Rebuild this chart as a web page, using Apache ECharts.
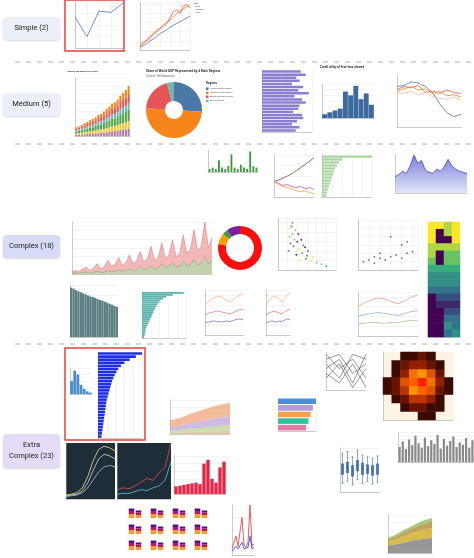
<!DOCTYPE html>
<html>
<head>
<meta charset="utf-8">
<script src="https://cdn.jsdelivr.net/npm/echarts@6/dist/echarts.min.js"></script>
<style>html,body{margin:0;padding:0;background:#fff}#main{width:474px;height:558px}</style>
</head>
<body>
<div id="main"></div>
<script>
// 分组标签
var groupLabels = ['Simple (2)', 'Medium (5)', 'Complex (18)', 'Extra\nComplex (23)'];

// Simple
var simpleCats = ['a', 'b', 'c', 'd', 'e'];
var simpleLine = [185, 100, 210, 205, 245];
var multiX = [0, 1, 2, 3, 4, 5, 6, 7, 8, 9, 10, 11, 12, 13, 14, 15];
var multiA = [10, 18, 22, 30, 36, 44, 48, 55, 60, 66, 72, 80, 86, 90, 94, 98];
var multiB = [8, 14, 20, 26, 34, 40, 46, 52, 58, 70, 84, 88, 80, 96, 100, 92];
var multiC = [6, 10, 14, 20, 24, 30, 36, 40, 44, 50, 54, 58, 62, 66, 70, 74];

// Medium
var stackCats = ['1','2','3','4','5','6','7','8','9','10','11','12','13','14','15','16','17','18','19','20'];
var stackS1 = [3, 3, 4, 4, 5, 5, 6, 6, 7, 8, 8, 9, 10, 11, 12, 12, 14, 15, 16, 18];
var stackS2 = [3, 4, 4, 5, 5, 6, 6, 7, 8, 8, 9, 10, 11, 12, 12, 14, 15, 16, 17, 18];
var stackS3 = [5, 6, 6, 7, 8, 9, 9, 11, 12, 12, 14, 15, 16, 18, 18, 20, 22, 24, 25, 27];
var stackS4 = [3, 3, 4, 4, 5, 5, 6, 6, 7, 7, 8, 9, 10, 11, 11, 12, 13, 14, 15, 16];
var stackS5 = [4, 4, 5, 6, 6, 7, 8, 8, 9, 10, 11, 12, 13, 14, 15, 16, 18, 19, 20, 22];
var stackS6 = [3, 3, 4, 5, 5, 6, 6, 7, 8, 8, 9, 10, 11, 12, 13, 14, 15, 16, 18, 20];
var gdpNames = ['Indian Ocean Region', 'Pacific Ocean Region', 'Atlantic Ocean Region', 'Arctic Region'];
var gdpValues = [26, 50, 20, 4];
var purpleBars = [62, 70, 55, 60, 48, 66, 58, 75, 52, 64, 70, 60, 58, 50, 64, 66, 56, 48, 60, 54];
var histValues = [2, 3, 4, 5, 14, 12, 17, 10, 13, 7];
var linesM1 = [70, 72, 78, 76, 70, 60, 40, 25, 18, 22];
var linesM2 = [65, 70, 68, 72, 60, 62, 58, 64, 60, 58];
var linesM3 = [62, 66, 70, 64, 66, 58, 62, 54, 56, 52];
var linesM4 = [60, 58, 62, 56, 60, 52, 50, 48, 52, 46];

// Complex
var spikeA = [2,3,2,4,6,3,5,9,4,6,12,6,8,14,7,9,16,8,10,18,9,11,22,10,12,24,11,14,26,12,15,30,14,18,34,16,20,40,18,26];
var spikeB = [1,1,1,2,2,1,2,3,2,2,4,3,3,5,3,4,6,4,5,8,5,6,10,6,7,12,7,8,13,8,9,15,9,11,17,10,12,20,12,16];
var redDonut = [78, 8, 4, 10];
var decBars = [95, 93, 90, 88, 86, 84, 82, 80, 78, 77, 75, 73, 71, 70, 68, 66, 64, 62, 60, 58];
var tealBars = [95, 70, 55, 48, 42, 38, 35, 32, 30, 28, 26, 24, 22, 20, 18, 16, 14, 12, 10, 9, 8, 7, 6, 5];
var greenBars = [100, 40, 34, 30, 26, 24, 22, 20, 18, 16, 14, 12, 10, 9];
var riseLine = [50, 52, 56, 60, 64, 70, 76, 82, 88, 95];
var fallLineA = [50, 46, 42, 44, 40, 38, 40, 36, 38, 34];
var fallLineB = [50, 44, 40, 38, 36, 32, 30, 32, 28, 26];
var blueArea = [30, 34, 40, 36, 50, 70, 55, 60, 42, 38, 36, 44, 40, 48, 62, 50, 44, 40, 38, 36];
var greenSpikes = [2, 3, 2, 8, 3, 2, 4, 12, 3, 2, 5, 3, 2, 14, 4, 3];
var viridisScatter = [[1,60],[1.2,55],[1.5,70],[1.3,48],[2,50],[2.2,42],[1.8,62],[2.5,38],[3,35],[2.8,44],[3.4,30],[4,28],[1.1,40],[1.6,45],[2.1,58],[3.6,34],[4.5,26],[5,24],[1.4,66],[2.4,52],[1.2,64],[1.7,52],[2.6,46],[3.1,40],[1.9,36],[2.3,30],[1.5,58],[2.9,32]];
var purpleScatter = [[1,10],[2,12],[3,8],[4,14],[5,12],[6,16],[7,18],[8,14],[9,20],[10,22],[6,40],[8,30],[4,20],[9,34],[3,16]];
var heatRows = ['r1','r2','r3','r4','r5','r6','r7','r8','r9','r10','r11','r12','r13','r14','r15','r16'];
var heatCols = ['A', 'B', 'C', 'D'];
var heatVals = [
  [9, 9, 8, 9], [9, 1, 8, 9], [9, 1, 1, 9], [8, 8, 8, 8], [8, 1, 7, 7], [7, 1, 7, 7],
  [6, 6, 6, 6], [5, 5, 5, 5], [5, 5, 5, 5], [4, 4, 4, 4], [1, 3, 3, 3], [1, 2, 2, 2],
  [1, 1, 3, 3], [1, 1, 4, 4], [1, 1, 5, 4], [1, 1, 4, 5]
];
var dotLines1 = [60, 68, 74, 78, 76, 70, 66, 72, 80, 84];
var dotLines2 = [40, 44, 46, 48, 46, 44, 42, 46, 50, 52];
var dotLines3 = [25, 26, 28, 27, 26, 28, 27, 30, 32, 31];

// Extra Complex
var blueHBars = [100, 86, 72, 60, 52, 46, 42, 38, 35, 32, 30, 28, 26, 24, 22, 20, 19, 18, 17, 16, 15, 14, 13, 12, 11, 10, 9, 8];
var darkLines1 = [5, 6, 8, 14, 28, 48, 62, 66, 64, 60];
var darkLines2 = [4, 5, 6, 10, 20, 36, 50, 56, 54, 50];
var darkLines3 = [3, 4, 5, 8, 14, 24, 34, 40, 42, 40];
var darkSpike1 = [10, 12, 11, 14, 18, 22, 20, 28, 34, 60];
var darkSpike2 = [5, 6, 6, 8, 10, 9, 12, 14, 20, 40];
var redBars = [20, 22, 24, 26, 28, 30, 26, 80, 90, 40, 30, 70, 85];
var grayBars = [40, 55, 35, 60, 45, 70, 50, 38, 65, 42, 58, 48, 72, 36, 62, 44, 56, 68, 40, 52, 46, 64, 38, 58];
var rankBars = [100, 92, 86, 80, 74];
var rankColors = ['#4a90d9', '#b39ddb', '#f5a04b', '#2ec4a0', '#e57ca8'];
var hist2dVals = [
  [0,0,0,0,1,1,0,0],[0,0,1,2,2,1,1,0],[0,1,2,4,4,3,1,0],[1,2,4,7,9,5,2,1],
  [1,2,5,9,10,6,3,1],[0,1,3,6,7,5,2,0],[0,1,2,3,3,2,1,0],[0,0,1,1,2,1,0,0]
];
var areaA = [20, 22, 24, 27, 30, 33, 35, 37, 38, 39];
var areaB = [10, 12, 14, 16, 18, 20, 22, 24, 25, 26];
var areaC = [6, 7, 8, 10, 11, 12, 13, 15, 16, 17];
var areaD = [4, 4, 5, 6, 6, 7, 8, 8, 9, 10];
var boxData = [[10,20,26,32,44],[12,22,28,34,46],[8,18,24,30,40],[14,24,30,36,48],[10,20,27,33,42],[12,21,26,31,40],[9,19,25,30,38],[11,20,26,32,41]];
var spikyRed = [10, 12, 30, 14, 12, 60, 16, 12, 20, 80, 14, 18];
var spikyBlue = [6, 8, 14, 10, 8, 20, 10, 8, 12, 30, 10, 12];
var smallStackA = [8, 6];
var smallStackB = [6, 5];
var smallStackC = [5, 4];

var chart = echarts.init(document.getElementById('main'));
var grids = [], xAxes = [], yAxes = [], series = [], graphics = [];

function addGrid(l, t, w, h, xa, ya, bg) {
  var i = grids.length;
  grids.push({ left: l, top: t, width: w, height: h, show: !!bg, backgroundColor: bg || 'transparent', borderWidth: 0 });
  var base = {
    gridIndex: i, axisLabel: { show: false }, axisTick: { show: false },
    axisLine: { show: true, lineStyle: { color: '#999', width: 0.5 } },
    splitLine: { show: true, lineStyle: { color: '#e8e8e8', width: 0.5 } }
  };
  xAxes.push(Object.assign({}, base, xa));
  yAxes.push(Object.assign({}, base, ya));
  return i;
}
function line(g, data, color, extra) {
  series.push(Object.assign({ type: 'line', xAxisIndex: g, yAxisIndex: g, data: data, symbol: 'none', lineStyle: { width: 0.8, color: color } }, extra || {}));
}
function bar(g, data, color, extra) {
  series.push(Object.assign({ type: 'bar', xAxisIndex: g, yAxisIndex: g, data: data, itemStyle: { color: color }, barCategoryGap: '15%' }, extra || {}));
}
function txt(x, y, s, size, color, weight) {
  graphics.push({ type: 'text', left: x, top: y, style: { text: s, fontSize: size, fill: color || '#333', fontWeight: weight || 'normal', fontFamily: 'Roboto' } });
}
function box(x, y, w, h, stroke) {
  graphics.push({ type: 'rect', shape: { x: x, y: y, width: w, height: h }, style: { fill: 'none', stroke: stroke, lineWidth: 1.5 }, z: 100 });
}
var cat = { type: 'category', splitLine: { show: false } };
var val = { type: 'value' };

// 分组标签与虚线
var labelBoxes = [[17, '#eceff7'], [93, '#eceff7'], [235, '#d8dbf6'], [434, '#e4dcf7']];
labelBoxes.forEach(function (b, i) {
  var h = i === 3 ? 34 : 23;
  graphics.push({ type: 'rect', shape: { x: 3, y: b[0], width: 57, height: h, r: 4 }, style: { fill: b[1], shadowBlur: 2, shadowColor: 'rgba(0,0,0,0.15)', shadowOffsetY: 1 } });
  graphics.push({ type: 'text', x: 31.5, y: b[0] + h / 2, style: { text: groupLabels[i], fontSize: 7.5, fill: '#222', align: 'center', verticalAlign: 'middle', fontFamily: 'Roboto', lineHeight: 11 } });
});
[62, 144, 344].forEach(function (y) {
  graphics.push({ type: 'line', shape: { x1: 15, y1: y, x2: 474, y2: y }, style: { stroke: '#999', lineWidth: 0.8, lineDash: [5, 6] } });
});

// Simple
var g = addGrid(75, 2, 48, 46, Object.assign({}, cat, { data: simpleCats, boundaryGap: false, splitLine: { show: true, lineStyle: { color: '#e8e8e8', width: 0.5 } } }), { type: 'value', min: 50, max: 250 });
line(g, simpleLine, '#4c78a8');
box(65, 0, 59, 51, '#e8403a');
g = addGrid(140, 2, 50, 48, { type: 'value', min: 0, max: 15 }, { type: 'value', min: 0, max: 105 });
line(g, multiX.map(function (x, i) { return [x, multiA[i]]; }), '#f58518');
line(g, multiX.map(function (x, i) { return [x, multiB[i]]; }), '#e45756');
line(g, multiX.map(function (x, i) { return [x, multiC[i]]; }), '#4c78a8');
txt(193, 2, 'Type\n— Blue\n— Orange\n— Red', 2.5, '#555');

// Medium
var stackColors = ['#b279a2', '#eeca3b', '#54a24b', '#72b7b2', '#e45756', '#f58518'];
g = addGrid(75, 78, 55, 58, Object.assign({}, cat, { data: stackCats }), val);
[stackS1, stackS2, stackS3, stackS4, stackS5, stackS6].forEach(function (d, i) { bar(g, d, stackColors[i], { stack: 'med', barCategoryGap: '25%' }); });
txt(67, 70, 'Annual emissions by sector', 2.5, '#333', 'bold');
txt(146, 70, 'Share of World GDP Represented by 4 Main Regions', 3.2, '#333', 'bold');
txt(146, 75, '(Source: The Economist)', 2.6, '#666');
series.push({ type: 'pie', center: [174, 110], radius: [9, 28], startAngle: 90, label: { show: false }, data: gdpNames.map(function (n, i) { return { name: n, value: gdpValues[i] }; }), color: ['#4c78a8', '#f58518', '#e45756', '#72b7b2'] });
txt(206, 82, 'Regions', 3, '#333', 'bold');
gdpNames.forEach(function (n, i) { txt(210, 87 + i * 4, n, 2.4, '#555'); graphics.push({ type: 'rect', shape: { x: 206, y: 87.5 + i * 4, width: 2.5, height: 2.5 }, style: { fill: ['#4c78a8', '#f58518', '#e45756', '#72b7b2'][i] } }); });
g = addGrid(262, 70, 50, 62, val, Object.assign({}, cat, { data: stackCats, inverse: true }));
bar(g, purpleBars, '#8b7fd4', { barCategoryGap: '20%' });
g = addGrid(322, 84, 52, 34, Object.assign({}, cat, { data: histValues.map(function (v, i) { return i; }) }), val);
bar(g, histValues, '#3d6a9e', { barCategoryGap: '6%' });
txt(320, 66, 'Credit utility of first-time cleared', 3, '#333', 'bold');
g = addGrid(397, 75, 64, 52, Object.assign({}, cat, { data: linesM1.map(function (v, i) { return i; }), boundaryGap: false, splitLine: { show: false } }), { type: 'value', min: 0, max: 90, splitLine: { show: false } });
line(g, linesM1, '#4c78a8'); line(g, linesM2, '#e45756'); line(g, linesM3, '#f58518'); line(g, linesM4, '#f2b8a0');

// Complex
g = addGrid(72, 222, 140, 52, Object.assign({}, cat, { data: spikeA.map(function (v, i) { return i; }), boundaryGap: false }), val);
line(g, spikeB, '#8fb07a', { stack: 'a', areaStyle: { color: '#a9c08e' }, lineStyle: { width: 0.5, color: '#7a9a66' } });
line(g, spikeA, '#e08585', { stack: 'a', areaStyle: { color: '#ee9b9b' }, lineStyle: { width: 0.5, color: '#d07070' } });
series.push({ type: 'pie', center: [240, 248], radius: [14, 22], startAngle: 90, label: { show: false }, data: redDonut, color: ['#ff0d0d', '#ff9900', '#3a9d3a', '#7b1fa2'] });
g = addGrid(278, 218, 58, 52, { type: 'value', min: 0, max: 6 }, { type: 'value', min: 20, max: 75 });
series.push({ type: 'scatter', xAxisIndex: g, yAxisIndex: g, symbolSize: 2, data: viridisScatter, itemStyle: { color: function (p) { return ['#fde725', '#5ec962', '#21918c', '#3b528b', '#440154'][p.dataIndex % 5]; } } });
g = addGrid(358, 220, 60, 50, { type: 'value', min: 0, max: 11 }, { type: 'value', min: 0, max: 60 });
series.push({ type: 'scatter', xAxisIndex: g, yAxisIndex: g, symbolSize: 2, data: purpleScatter, itemStyle: { color: '#7b4fa8' } });
g = addGrid(428, 222, 32, 115, Object.assign({}, cat, { data: heatCols }), Object.assign({}, cat, { data: heatRows, inverse: true }));
var heatData = [];
heatVals.forEach(function (r, ri) { r.forEach(function (v, ci) { heatData.push([ci, ri, v]); }); });
series.push({ type: 'heatmap', xAxisIndex: g, yAxisIndex: g, data: heatData });
g = addGrid(70, 285, 48, 52, Object.assign({}, cat, { data: decBars.map(function (v, i) { return i; }) }), val);
bar(g, decBars, '#5a7d82', { barCategoryGap: '4%' });
g = addGrid(142, 292, 44, 46, val, Object.assign({}, cat, { data: tealBars.map(function (v, i) { return i; }), inverse: true }));
bar(g, tealBars, '#5bb3ad', { barCategoryGap: '10%' });
g = addGrid(205, 290, 38, 45, Object.assign({}, cat, { data: dotLines1.map(function (v, i) { return i; }), boundaryGap: false }), { type: 'value', min: 0, max: 90 });
line(g, dotLines1, '#f5b27a'); line(g, dotLines2, '#e07b7b'); line(g, dotLines3, '#8e6fc0');
g = addGrid(266, 290, 24, 45, Object.assign({}, cat, { data: dotLines1.map(function (v, i) { return i; }), boundaryGap: false }), { type: 'value', min: 0, max: 90 });
line(g, dotLines1, '#f5b27a'); line(g, dotLines2, '#e07b7b'); line(g, dotLines3, '#8e6fc0');
g = addGrid(358, 292, 60, 44, Object.assign({}, cat, { data: dotLines1.map(function (v, i) { return i; }), boundaryGap: false }), { type: 'value', min: 0, max: 90 });
line(g, dotLines1, '#f2a08a'); line(g, dotLines2, '#8fb2d6'); line(g, dotLines3, '#a5c98f');
g = addGrid(274, 155, 40, 42, Object.assign({}, cat, { data: riseLine.map(function (v, i) { return i; }), boundaryGap: false }), { type: 'value', min: 20, max: 100 });
line(g, riseLine, '#6d4c41'); line(g, fallLineA, '#c45bb3'); line(g, fallLineB, '#f0a030');
g = addGrid(322, 155, 50, 42, val, Object.assign({}, cat, { data: greenBars.map(function (v, i) { return i; }), inverse: true }));
bar(g, greenBars, '#a8d5a0', { barCategoryGap: '25%' });
g = addGrid(395, 155, 72, 38, Object.assign({}, cat, { data: blueArea.map(function (v, i) { return i; }), boundaryGap: false, splitLine: { show: false } }), { type: 'value', splitLine: { show: false } });
line(g, blueArea, '#3f48cc', { areaStyle: { color: new echarts.graphic.LinearGradient(0, 0, 0, 1, [{ offset: 0, color: '#3f48cc' }, { offset: 1, color: '#d6dbf7' }]) } });
g = addGrid(208, 150, 50, 22, Object.assign({}, cat, { data: greenSpikes.map(function (v, i) { return i; }) }), { type: 'value', splitLine: { show: false } });
bar(g, greenSpikes, '#3c9a3c', { barCategoryGap: '40%' });

// Extra Complex
g = addGrid(98, 352, 44, 86, val, Object.assign({}, cat, { data: blueHBars.map(function (v, i) { return i; }), inverse: true }));
bar(g, blueHBars, '#1f2fe0', { barCategoryGap: '15%' });
g = addGrid(70, 368, 22, 26, Object.assign({}, cat, { data: [1, 2, 3, 4, 5, 6, 7] }), val);
bar(g, [20, 36, 30, 14, 8, 4, 2], '#4a8fc7', { barCategoryGap: '10%' });
box(65, 348, 80, 92, '#e8403a');
g = addGrid(66, 443, 49, 56, Object.assign({}, cat, { data: darkLines1.map(function (v, i) { return i; }), boundaryGap: false, splitLine: { show: false } }), { type: 'value', splitLine: { show: false } }, '#1e2d38');
line(g, darkLines1, '#f0e68c'); line(g, darkLines2, '#d8d8d8'); line(g, darkLines3, '#9ec9e0');
g = addGrid(117, 443, 54, 56, Object.assign({}, cat, { data: darkSpike1.map(function (v, i) { return i; }), boundaryGap: false, splitLine: { show: false } }), { type: 'value', splitLine: { show: false } }, '#1e2d38');
line(g, darkSpike1, '#e05050'); line(g, darkSpike2, '#5fc3e0');
for (var k = 0; k < 12; k++) {
  g = addGrid(128 + (k % 4) * 22, 508 + Math.floor(k / 4) * 16, 14, 10, Object.assign({}, cat, { data: ['a', 'b'], axisLine: { show: false } }), { type: 'value', min: 0, max: 20, splitLine: { show: false }, axisLine: { show: false } });
  bar(g, smallStackA, '#f0a030', { stack: 'sm' + k, barCategoryGap: '20%' });
  bar(g, smallStackB, '#c2185b', { stack: 'sm' + k, barCategoryGap: '20%' });
  bar(g, smallStackC, '#4a148c', { stack: 'sm' + k, barCategoryGap: '20%' });
}
g = addGrid(174, 456, 52, 38, Object.assign({}, cat, { data: redBars.map(function (v, i) { return i; }) }), val);
bar(g, redBars, '#e0284a', { barCategoryGap: '15%' });
g = addGrid(170, 400, 60, 34, Object.assign({}, cat, { data: areaA.map(function (v, i) { return i; }), boundaryGap: false }), val);
[areaD, areaC, areaB, areaA].forEach(function (d, i) { line(g, d, '#fff', { stack: 'x', areaStyle: { color: ['#d4b483', '#b5d08b', '#b9a0d9', '#f0a070'][i] }, lineStyle: { width: 0 } }); });
g = addGrid(278, 398, 38, 33, val, Object.assign({}, cat, { data: rankBars.map(function (v, i) { return i; }), inverse: true, axisLine: { show: false } }));
bar(g, rankBars.map(function (v, i) { return { value: v, itemStyle: { color: rankColors[i] } }; }), '#999', { barCategoryGap: '15%' });
g = addGrid(383, 352, 70, 68, Object.assign({}, cat, { data: hist2dVals[0].map(function (v, i) { return i; }) }), Object.assign({}, cat, { data: hist2dVals.map(function (v, i) { return i; }) }), '#fdf3e4');
var h2 = [];
hist2dVals.forEach(function (r, ri) { r.forEach(function (v, ci) { if (v > 0) h2.push([ci, ri, v]); }); });
series.push({ type: 'heatmap', xAxisIndex: g, yAxisIndex: g, data: h2 });
g = addGrid(340, 448, 40, 44, Object.assign({}, cat, { data: boxData.map(function (v, i) { return i; }) }), { type: 'value', min: 0, max: 50 });
series.push({ type: 'boxplot', xAxisIndex: g, yAxisIndex: g, data: boxData, itemStyle: { color: '#3d72c4', borderColor: '#1f4f99', borderWidth: 0.5 }, boxWidth: [2, 4] });
g = addGrid(398, 432, 76, 30, Object.assign({}, cat, { data: grayBars.map(function (v, i) { return i; }) }), val);
bar(g, grayBars, '#8a8a8a', { barCategoryGap: '30%' });
g = addGrid(388, 515, 44, 38, Object.assign({}, cat, { data: areaA.map(function (v, i) { return i; }), boundaryGap: false }), val);
[areaA, areaB, areaC, areaD].forEach(function (d, i) { line(g, d, '#fff', { stack: 'y', areaStyle: { color: ['#6b6b6b', '#c9a000', '#a67c1e', '#7cb342'][i] }, lineStyle: { width: 0 } }); });
g = addGrid(232, 505, 22, 50, Object.assign({}, cat, { data: spikyRed.map(function (v, i) { return i; }), boundaryGap: false }), val);
line(g, spikyRed, '#e53935'); line(g, spikyBlue, '#1e3ee0');
g = addGrid(326, 352, 40, 38, Object.assign({}, cat, { data: [0, 1, 2, 3], boundaryGap: false }), Object.assign({}, cat, { data: [0, 1, 2, 3, 4, 5, 6, 7], inverse: true }));
[[0, 3, 1, 5], [1, 0, 4, 2], [2, 5, 0, 1], [3, 1, 6, 0], [4, 6, 2, 7], [5, 2, 7, 3]].forEach(function (d) { line(g, d, '#555', { lineStyle: { width: 0.6, color: '#555' } }); });

chart.setOption({
  animation: false,
  grid: grids, xAxis: xAxes, yAxis: yAxes, series: series,
  visualMap: [
    { show: false, seriesIndex: series.findIndex(function (s) { return s.type === 'heatmap'; }), min: 1, max: 9, inRange: { color: ['#440154', '#31688e', '#35b779', '#fde725'] } },
    { show: false, seriesIndex: series.length - 1 - series.slice().reverse().findIndex(function (s) { return s.type === 'heatmap'; }), min: 1, max: 10, inRange: { color: ['#3b0a00', '#a02000', '#f06000', '#ffb000', '#ff2000'] } }
  ],
  graphic: graphics
});
</script>
</body>
</html>
